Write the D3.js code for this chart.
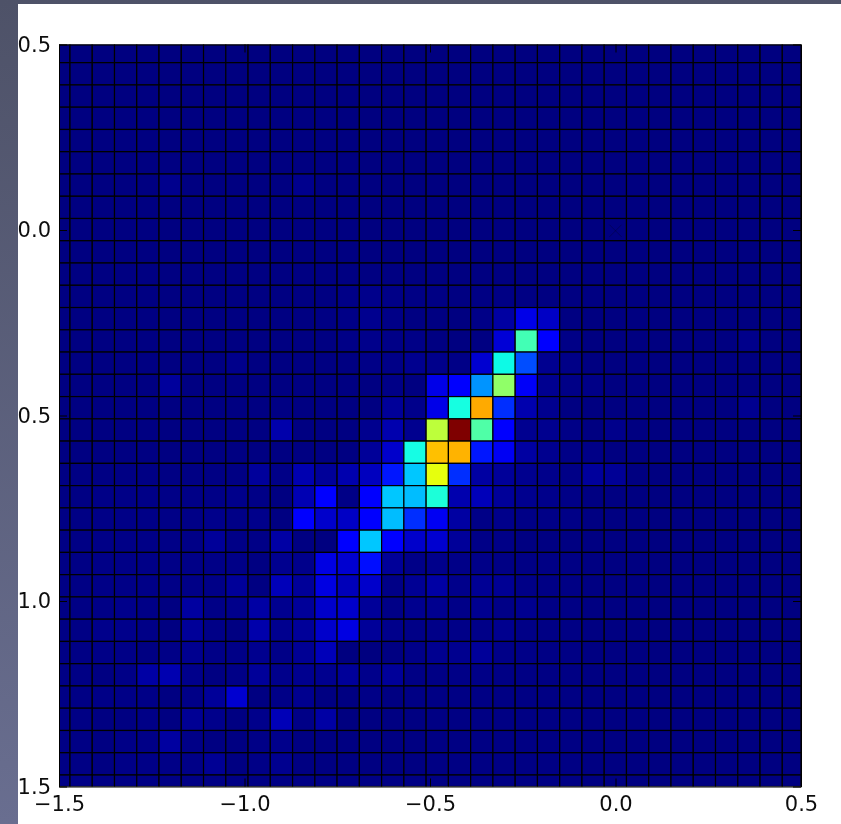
<!DOCTYPE html>
<meta charset="utf-8">
<script src="https://d3js.org/d3.v7.min.js"></script>
<style>
body { margin: 0; }
svg { display: block; }
text { font-family: "DejaVu Sans", sans-serif; }
</style>
<body>
<div id="canvas"></div>
<script>

// tick positions and labels (the y labels have their minus signs cut off in the picture)
var xTicks = [-1.5, -1.0, -0.5, 0.0, 0.5];
var xTickLabels = ["\u22121.5", "\u22121.0", "\u22120.5", "0.0", "0.5"];
var yTicks = [0.5, 0.0, -0.5, -1.0, -1.5];
var yTickLabels = ["0.5", "0.0", "0.5", "1.0", "1.5"];

// bin edges, data units. first and last bins are cut by the axes
var xEdges = [-1.5, -1.4704, -1.4104, -1.3504, -1.2904, -1.2304, -1.1704, -1.1104, -1.0504, -0.9904, -0.9304, -0.8704,
    -0.8104, -0.7504, -0.6904, -0.6304, -0.5704, -0.5104, -0.4504, -0.3904, -0.3304, -0.2704, -0.2104, -0.1504,
    -0.0904, -0.0304, 0.0296, 0.0896, 0.1496, 0.2096, 0.2696, 0.3296, 0.3896, 0.4496, 0.5];
var yEdges = [0.5, 0.451, 0.391, 0.331, 0.271, 0.211, 0.151, 0.091, 0.031, -0.029, -0.089, -0.149,
    -0.209, -0.269, -0.329, -0.389, -0.449, -0.509, -0.569, -0.629, -0.689, -0.749, -0.809, -0.869,
    -0.929, -0.989, -1.049, -1.109, -1.169, -1.229, -1.289, -1.349, -1.409, -1.469, -1.5];

// histogram, normalised so the peak is 1000. one row per y bin, top row first
var counts = [
    [1,1,1,1,1,1,1,1,1,1,1,1,1, 1,1,1,1,1,1,1,1,1,1,1, 1,1,1,1,1,1,1,1,1,1],
    [1,1,1,1,1,1,1,1,1,1,1,1,1, 1,1,1,1,1,1,1,1,1,1,1, 1,1,1,1,1,1,1,1,1,1],
    [1,1,1,1,1,1,1,1,1,1,1,1,1, 1,1,1,1,1,1,1,1,1,1,1, 1,1,1,1,1,1,1,1,1,1],
    [2,2,2,2,2,2,2,2,2,2,2,2,2, 1,1,1,1,1,1,1,1,1,1,1, 1,1,1,1,1,1,1,1,1,1],
    [2,2,2,2,2,2,2,2,2,2,2,2,2, 1,1,1,1,1,1,1,1,1,1,1, 1,1,1,1,1,1,1,1,1,1],
    [2,2,2,2,2,3,2,2,2,2,2,2,2, 2,1,1,1,1,1,1,1,1,1,1, 1,1,1,1,1,1,1,1,1,1],
    [2,2,2,2,2,12,2,2,2,2,2,12,2, 2,2,1,1,1,1,1,1,1,1,1, 1,1,1,1,1,1,1,1,1,1],
    [2,2,2,2,2,2,2,2,2,2,2,2,2, 2,1,1,1,1,1,1,1,1,1,1, 1,1,1,1,1,1,1,1,1,1],
    [2,2,2,2,2,2,2,2,2,2,2,2,2, 2,1,1,1,1,1,1,1,1,1,1, 1,1,1,1,1,1,1,1,1,1],
    [2,2,2,2,2,2,2,2,2,2,2,2,2, 2,2,1,1,1,1,1,1,1,1,1, 1,1,1,1,1,1,1,1,1,1],
    [3,3,3,3,3,3,3,3,3,3,3,3,3, 3,3,3,2,2,2,2,2,2,2,2, 2,1,1,1,1,1,1,1,1,1],
    [3,3,3,3,3,3,3,3,3,3,3,3,3, 7,10,7,5,4,3,4,5,4,3,3, 3,2,2,2,2,2,2,2,2,2],
    [3,3,3,3,3,3,3,3,3,3,3,3,4, 7,14,7,3,3,2,7,30,90,60,3, 2,2,2,2,2,2,2,2,2,2],
    [3,3,3,3,3,3,3,3,3,3,3,3,3, 7,10,7,7,3,2,3,75,430,110,7, 2,2,2,2,2,2,2,10,2,2],
    [3,3,3,3,3,3,3,3,10,3,3,3,3, 3,7,7,14,10,7,70,370,200,15,7, 2,2,2,2,2,2,2,2,2,2],
    [3,3,3,3,3,25,3,3,3,3,3,3,3, 3,3,7,2,90,110,270,525,105,15,7, 7,2,2,2,2,2,2,2,2,2],
    [3,3,3,3,3,3,3,3,3,3,4,3,3, 3,3,22,10,90,377,730,170,40,14,3, 2,2,2,2,2,2,2,15,2,2],
    [3,3,3,3,3,3,3,3,3,3,38,3,3, 3,14,40,14,580,1000,447,110,15,14,7, 2,10,2,2,2,2,2,2,2,2],
    [3,3,3,3,3,3,3,3,3,3,3,3,3, 3,22,65,373,707,720,150,100,30,14,7, 7,2,2,2,2,2,2,2,2,2],
    [4,4,4,4,4,4,4,4,4,24,7,42,22, 40,55,150,320,630,170,30,22,14,10,7, 25,20,2,2,2,2,2,2,2,2],
    [4,4,7,7,7,7,7,7,10,7,2,45,110, 7,110,320,310,386,40,50,22,14,10,7, 3,3,2,2,2,2,2,2,2,2],
    [5,5,7,7,7,7,7,10,7,10,3,110,65, 60,125,310,170,100,30,7,10,7,7,7, 3,3,2,2,2,2,2,2,2,2],
    [5,5,7,7,7,7,7,22,7,7,32,3,1, 110,320,110,65,70,22,7,7,3,3,3, 3,3,2,2,2,2,2,2,2,2],
    [5,5,7,7,7,7,7,7,7,3,14,10,85, 70,140,22,8,10,8,8,5,5,5,5, 3,3,2,2,2,2,2,2,2,2],
    [5,5,7,7,7,7,7,7,22,3,50,22,85, 50,65,7,18,32,10,18,18,7,5,5, 3,3,2,2,2,2,2,2,2,2],
    [5,5,7,10,7,3,28,7,10,32,14,22,65, 65,22,7,14,14,8,15,7,14,5,5, 3,3,2,2,2,2,2,2,2,2],
    [5,5,10,10,7,3,22,7,3,38,14,22,65, 85,22,10,7,8,8,8,14,7,5,5, 3,3,2,2,2,2,2,2,2,2],
    [5,5,7,7,3,7,14,7,7,14,7,18,50, 1,1,3,8,15,14,22,8,8,5,5, 3,3,2,2,2,2,2,2,2,2],
    [5,5,3,7,32,42,10,3,7,22,10,14,14, 22,10,22,5,5,7,7,5,5,4,4, 3,3,2,2,2,2,2,2,2,2],
    [5,5,7,7,7,3,7,22,70,3,7,14,3, 3,7,3,5,5,5,5,4,4,4,4, 3,3,2,2,2,2,2,2,2,2],
    [5,5,3,3,7,3,18,10,3,10,48,7,32, 1,3,3,3,4,4,4,4,4,4,4, 3,3,2,2,2,2,2,2,2,2],
    [5,5,3,7,7,28,7,3,3,7,10,3,3, 3,3,3,3,4,4,4,4,4,4,4, 3,3,2,2,2,2,2,2,2,2],
    [5,5,3,7,7,7,7,18,3,7,14,3,3, 3,3,3,3,4,4,4,4,4,4,4, 3,3,2,2,2,2,2,2,2,2],
    [7,7,5,5,5,5,5,5,5,5,5,5,5, 5,5,5,5,4,4,4,4,4,4,4, 3,3,2,2,2,2,2,2,2,2]
];

var width = 841;
var height = 824;

var svg = d3.select("#canvas")
    .append("svg")
    .attr("width", width)
    .attr("height", height);

// window behind the figure
var defs = svg.append("defs");
var grad = defs.append("linearGradient")
    .attr("id", "desktop")
    .attr("x1", 0).attr("y1", 0).attr("x2", 0).attr("y2", 1);
grad.append("stop").attr("offset", 0).attr("stop-color", "#4e5268");
grad.append("stop").attr("offset", 1).attr("stop-color", "#696e90");

// the reference is a rescaled screenshot, so everything is a bit soft
defs.append("filter")
    .attr("id", "soft")
    .attr("filterUnits", "userSpaceOnUse")
    .attr("x", 0).attr("y", 0).attr("width", width).attr("height", height)
    .append("feGaussianBlur")
    .attr("stdDeviation", 0.45);

svg.append("rect")
    .attr("width", width)
    .attr("height", height)
    .attr("fill", "url(#desktop)");
svg.append("rect")
    .attr("x", 18)
    .attr("y", 4)
    .attr("width", width - 18)
    .attr("height", height - 4)
    .attr("fill", "white");

var fig = svg.append("g").attr("filter", "url(#soft)");

var x = d3.scaleLinear().domain([-1.5, 0.5]).range([59, 801]);
var y = d3.scaleLinear().domain([0.5, -1.5]).range([44.5, 786.5]);

// jet colormap, one piecewise scale per channel
var jetR = d3.scaleLinear().domain([0, 0.35, 0.66, 0.89, 1]).range([0, 0, 255, 255, 127]);
var jetG = d3.scaleLinear().domain([0, 0.125, 0.375, 0.64, 0.91, 1]).range([0, 0, 255, 255, 0, 0]);
var jetB = d3.scaleLinear().domain([0, 0.11, 0.34, 0.65, 1]).range([127, 255, 255, 0, 0]);
var value = d3.scaleLinear().domain([0, 1000]).range([0, 1]);
function jet(c) {
    var v = value(c);
    return d3.rgb(jetR(v), jetG(v), jetB(v)).formatRgb();
}

defs.append("clipPath")
    .attr("id", "plot")
    .append("rect")
    .attr("x", x(-1.5))
    .attr("y", y(0.5))
    .attr("width", x(0.5) - x(-1.5))
    .attr("height", y(-1.5) - y(0.5));

// cells, flatten the matrix to one list
var cells = [];
counts.forEach(function(row, r) {
    row.forEach(function(c, k) {
        cells.push({r: r, k: k, c: c});
    });
});

fig.append("g")
    .attr("clip-path", "url(#plot)")
    .selectAll("rect")
    .data(cells)
    .enter()
    .append("rect")
    .attr("x", function(d) { return x(xEdges[d.k]); })
    .attr("y", function(d) { return y(yEdges[d.r]); })
    .attr("width", function(d) { return x(xEdges[d.k + 1]) - x(xEdges[d.k]); })
    .attr("height", function(d) { return y(yEdges[d.r + 1]) - y(yEdges[d.r]); })
    .attr("fill", function(d) { return jet(d.c); })
    .attr("stroke", "black")
    .attr("stroke-width", 1.2);

// the little x at the origin
fig.append("path")
    .attr("d", d3.symbol().type(d3.symbolX).size(100))
    .attr("transform", "translate(" + x(0) + "," + (y(0) + 0.8) + ")")
    .attr("fill", "#00002a")
    .attr("stroke", "#00002a")
    .attr("stroke-width", 0.4);

// axes, ticks point inwards
fig.append("g")
    .attr("transform", "translate(0," + y(-1.5) + ")")
    .call(d3.axisBottom(x)
        .tickValues(xTicks)
        .tickFormat(function(d, i) { return xTickLabels[i]; })
        .tickSizeOuter(0)
        .tickSizeInner(-8)
        .tickPadding(10));
fig.append("g")
    .attr("transform", "translate(" + x(-1.5) + ",0)")
    .call(d3.axisLeft(y)
        .tickValues(yTicks)
        .tickFormat(function(d, i) { return yTickLabels[i]; })
        .tickSizeOuter(0)
        .tickSizeInner(-8)
        .tickPadding(8));
fig.append("g")
    .attr("transform", "translate(0," + y(0.5) + ")")
    .call(d3.axisTop(x).tickValues(xTicks).tickFormat("").tickSizeOuter(0).tickSizeInner(-8));
fig.append("g")
    .attr("transform", "translate(" + x(0.5) + ",0)")
    .call(d3.axisRight(y).tickValues(yTicks).tickFormat("").tickSizeOuter(0).tickSizeInner(-8));

fig.selectAll("g text")
    .style("font-size", "21px")
    .style("font-family", "'DejaVu Sans'")
    .attr("fill", "#111");

</script>
</body>
